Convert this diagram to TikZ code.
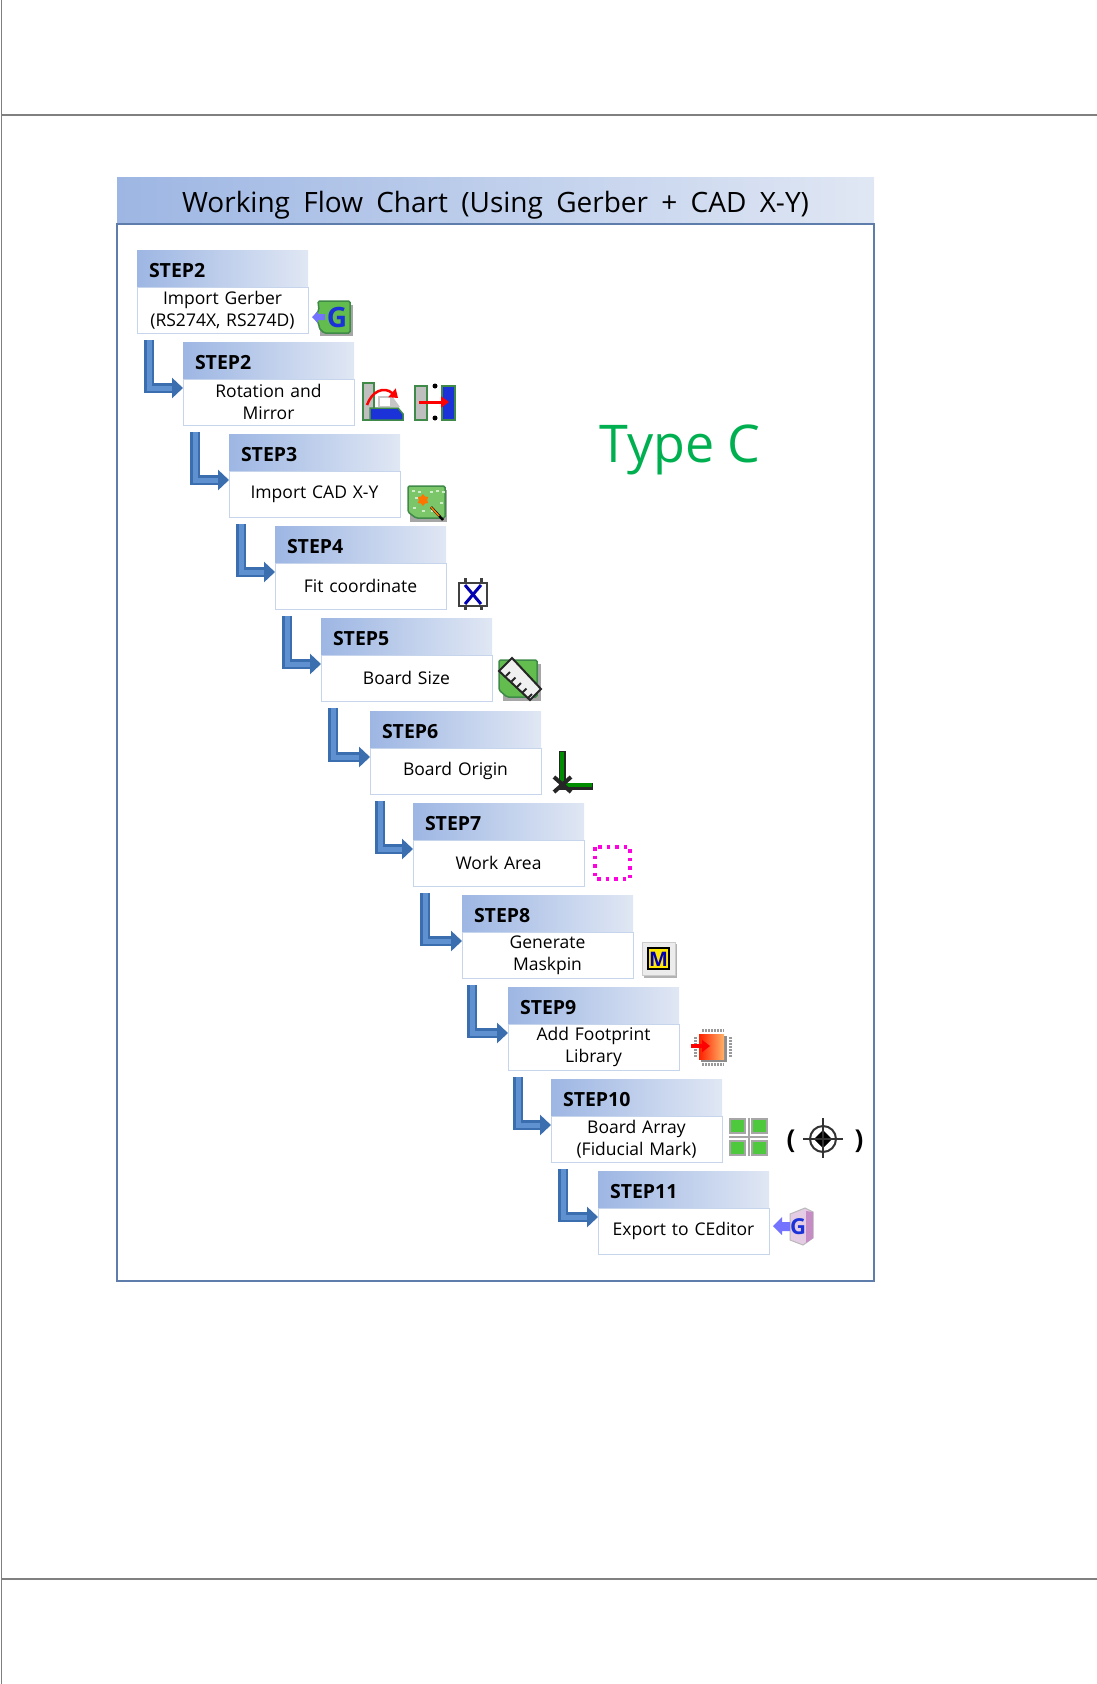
\documentclass[tikz,border=0pt]{standalone}
\usepackage{fontspec}
\setmainfont{Open Sans}
\usetikzlibrary{positioning,arrows.meta,shapes.geometric}
\definecolor{headleft}{HTML}{9DB6E3}
\definecolor{headright}{HTML}{E0E7F4}
\definecolor{bodyline}{HTML}{C6D5EC}
\definecolor{frameline}{HTML}{5F7DAB}
\definecolor{linkdark}{HTML}{3A6EAE}
\definecolor{linklight}{HTML}{5F90CF}
\definecolor{icongreen}{HTML}{62BC4E}
\definecolor{iconedge}{HTML}{3F8A48}
\definecolor{iconblue}{HTML}{1A32D8}
\definecolor{typegreen}{HTML}{00B050}
\definecolor{workpink}{HTML}{FF00E0}

\begin{document}
\begin{tikzpicture}[x=1pt,y=-1pt,
  mytitle/.style={anchor=north west, minimum width=757pt, minimum height=47pt, inner sep=0pt, outer sep=0pt,
    left color=headleft, right color=headright, font=\fontsize{28}{30}\selectfont},
  myframe/.style={draw=frameline, line width=1.2pt, minimum width=757pt, minimum height=1057pt, inner sep=0pt, outer sep=0pt},
  stephead/.style={anchor=north west, minimum width=171pt, minimum height=37pt, text width=147pt, text height=17pt, text depth=0pt, inner xsep=12pt, inner ysep=0pt, outer sep=0pt,
    left color=headleft, right color=headright, align=left, font=\fontsize{19.5}{22}\selectfont\bfseries},
  stepbody/.style={draw=bodyline, line width=1pt, fill=white, minimum width=171pt, minimum height=46pt, text width=167pt, inner xsep=2pt, inner ysep=0pt, outer sep=0pt,
    align=center, font=\fontsize{17.5}{22}\selectfont},
  steplink/.style={draw=linkdark, line width=10pt, shorten <=7pt, -{Triangle[length=11pt,width=20pt]},
    postaction={draw=linklight, line width=5pt, -, shorten >=11pt}},
  iconbox/.style={fill=icongreen, draw=iconedge, line width=1.5pt, rounded corners=1.5pt},
  iconshadow/.style={fill=gray!70, draw=none},
  redarrow/.style={draw=red, line width=3pt, -{Triangle[length=8pt,width=11pt]}},
  iconletter/.style={inner sep=0pt, font=\fontsize{#1}{#1}\selectfont\bfseries}
  ]
  \useasboundingbox (0,0) rectangle (1097,1684);
  \draw[gray, line width=1.5pt] (1.5,0) -- (1.5,1684);
  \draw[gray, line width=1.2pt] (1.5,115) -- (1097,115);
  \draw[gray, line width=1.2pt] (1.5,1579) -- (1097,1579);

  \node[mytitle] (title) at (117,177) {\rule{0pt}{30pt}\spaceskip=13.3pt Working Flow Chart (Using Gerber + CAD X-Y)};
  \node[myframe, below=0pt of title] (frame) {};
  \node[text=typegreen, inner sep=0pt, font=\fontsize{52}{56}\selectfont] (typec) at (680,450) {Type C};

  \node[stephead] (head1) at (137,250) {STEP2};
  \node[stepbody, below=0pt of head1] (body1) {Import Gerber\\(RS274X, RS274D)};
  \node[stephead] (head2) at (183,342) {STEP2};
  \node[stepbody, below=0pt of head2] (body2) {Rotation and\\Mirror};
  \node[stephead] (head3) at (229,434) {STEP3};
  \node[stepbody, below=0pt of head3] (body3) {Import CAD X-Y};
  \node[stephead] (head4) at (275,526) {STEP4};
  \node[stepbody, below=0pt of head4] (body4) {Fit coordinate};
  \node[stephead] (head5) at (321,618) {STEP5};
  \node[stepbody, below=0pt of head5] (body5) {Board Size};
  \node[stephead] (head6) at (370,711) {STEP6};
  \node[stepbody, below=0pt of head6] (body6) {Board Origin};
  \node[stephead] (head7) at (413,803) {STEP7};
  \node[stepbody, below=0pt of head7] (body7) {Work Area};
  \node[stephead] (head8) at (462,895) {STEP8};
  \node[stepbody, below=0pt of head8] (body8) {Generate\\Maskpin};
  \node[stephead] (head9) at (508,987) {STEP9};
  \node[stepbody, below=0pt of head9] (body9) {Add Footprint\\Library};
  \node[stephead] (head10) at (551,1079) {STEP10};
  \node[stepbody, below=0pt of head10] (body10) {Board Array\\(Fiducial Mark)};
  \node[stephead] (head11) at (598,1171) {STEP11};
  \node[stepbody, below=0pt of head11] (body11) {Export to CEditor};

  \draw[steplink] ([xshift=12pt]body1.south west) |- ([yshift=-9pt]body2.north west);
  \draw[steplink] ([xshift=12pt]body2.south west) |- ([yshift=-9pt]body3.north west);
  \draw[steplink] ([xshift=12pt]body3.south west) |- ([yshift=-9pt]body4.north west);
  \draw[steplink] ([xshift=12pt]body4.south west) |- ([yshift=-9pt]body5.north west);
  \draw[steplink] ([xshift=12pt]body5.south west) |- ([yshift=-9pt]body6.north west);
  \draw[steplink] ([xshift=10pt]body6.south west) |- ([yshift=-9pt]body7.north west);
  \draw[steplink] ([xshift=12pt]body7.south west) |- ([yshift=-9pt]body8.north west);
  \draw[steplink] ([xshift=10pt]body8.south west) |- ([yshift=-9pt]body9.north west);
  \draw[steplink] ([xshift=10pt]body9.south west) |- ([yshift=-9pt]body10.north west);
  \draw[steplink] ([xshift=12pt]body10.south west) |- ([yshift=-9pt]body11.north west);

  % import gerber
  \fill[iconshadow] (320,305) rectangle (353,336);
  \draw[iconbox] (318,301) -- (350,301) -- (350,333) -- (324,333) -- (319,328) -- (319,324) -- (314,317) -- (319,310) -- cycle;
  \fill[blue!55!white] (312,317) -- (318,311) -- (318,314) -- (325,314) -- (325,320) -- (318,320) -- (318,323) -- cycle;
  \node[iconletter=28, text=iconblue] (igerber) at (337,317) {G};

  % rotation
  \draw[fill=gray!50, draw=iconedge, line width=1.5pt] (363,383) rectangle (374,420);
  \draw[fill=iconblue, draw=iconedge, line width=1.5pt] (370,408) -- (398,408) -- (403,414) -- (403,420) -- (370,420) -- cycle;
  \fill[gray!45] (378,396) -- (392,396) -- (400,407) -- (378,407) -- cycle;
  \fill[white] (380,398) rectangle (390,406);
  \draw[redarrow, line width=2.5pt] (367,405) .. controls (372,391) and (384,386) .. (398,398);

  % mirror
  \draw[fill=gray!50, draw=iconedge, line width=1.5pt] (415,386) rectangle (427,420);
  \draw[fill=iconblue, draw=iconedge, line width=1.5pt] (442,386) rectangle (455,420);
  \fill[black] (435,386) circle (2.5);
  \fill[black] (435,418) circle (2.5);
  \draw[redarrow] (419,402) -- (449,402);

  % import cad
  \fill[iconshadow] (410,490) rectangle (447,522);
  \draw[iconbox, fill=icongreen!85!white] (408,486) -- (445,486) -- (445,518) -- (416,518) -- (408,512) -- cycle;
  \foreach \px/\py in {412/490,418/491,436/490,442/491,413/507,422/510,430/491,440/502,431/510,415/497}
    \fill[white!70!icongreen] (\px,\py) rectangle ++(3,2);
  \node[star, star points=6, fill=orange!90!red, inner sep=0pt, minimum size=12pt] (istar) at (423,500) {};
  \draw[black, line width=2.5pt] (431,507) -- (443,520);
  \draw[orange, line width=1.5pt] (431,507) -- (439,516);

  % fit coordinate
  \draw[black!75, line width=2.5pt] (459,583) rectangle (487,606);
  \draw[black!75, line width=3pt] (465,578) -- (465,584) (481,578) -- (481,584) (465,605) -- (465,610) (481,605) -- (481,610);
  \draw[blue!70!black, line width=3pt] (465,585) -- (481,604) (481,585) -- (465,604);

  % board size
  \fill[iconshadow] (503,664) rectangle (541,701);
  \draw[iconbox] (499,660) -- (537,660) -- (537,697) -- (507,697) -- (499,690) -- cycle;
  \draw[fill=gray!12, draw=black!85, line width=2pt] (512,658) -- (541,689) -- (530,700) -- (499,671) -- cycle;
  \foreach \pt in {0,1,2,3,4}
    \draw[black!85, line width=2pt] (506+\pt*5.5,676-\pt*-5.5) -- ++(4,-4);

  % board origin
  \draw[black!85, line width=7pt] (562,751) -- (562,786) -- (593,786);
  \draw[green!55!black, line width=4pt] (562,752) -- (562,785) -- (592,785);
  \draw[black!85, line width=4pt] (554,777) -- (571,792) (571,777) -- (554,792);

  % work area
  \draw[workpink, line width=3.5pt, dash pattern=on 3.5pt off 5pt] (595,847) rectangle (630,879);

  % maskpin
  \fill[gray!60] (644,944) rectangle (677,978);
  \draw[fill=gray!15, draw=gray!40, line width=1pt] (642,942) rectangle (675,975);
  \draw[fill=yellow!90!orange, draw=black, line width=2pt] (648,948) rectangle (669,969);
  \node[iconletter=20, text=blue!70!black] (imask) at (658.5,959) {M};

  % footprint
  \draw[gray!80, line width=3pt, dash pattern=on 1.5pt off 1.5pt] (702,1030) -- (724,1030) (702,1064) -- (724,1064) (695,1037) -- (695,1057) (730,1037) -- (730,1057);
  \fill[black!45] (701,1036) rectangle (727,1062);
  \fill[left color=red!75!orange, right color=orange!60!white] (699,1034) rectangle (724,1059);
  \draw[redarrow, line width=4pt, -{Triangle[length=8pt,width=12pt]}] (691,1046) -- (710,1046);

  % board array
  \draw[gray!70, line width=2pt] (748.5,1118) -- (748.5,1156) (729,1137) -- (768,1137);
  \foreach \px/\py in {730/1119,752/1119,730/1141,752/1141}
    \draw[fill=icongreen!80!green, draw=gray!70, line width=2pt] (\px,\py) rectangle ++(15,14);

  % fiducial
  \node[iconletter=26] (lparen) at (791,1141) {(};
  \node[iconletter=26] (rparen) at (859,1141) {)};
  \draw[black!80, line width=2pt] (823,1139) circle (13);
  \fill[black] (823,1139) circle (6);
  \fill[black] (823,1130) -- (832,1139) -- (823,1148) -- (814,1139) -- cycle;
  \draw[black!80, line width=1.8pt] (823,1118) -- (823,1158) (803,1139) -- (843,1139);

  % export
  \draw[fill=violet!20, draw=gray!55, line width=1pt] (790,1214) -- (805,1208) -- (813,1212) -- (813,1238) -- (803,1245) -- (790,1240) -- cycle;
  \fill[violet!45] (806,1211) -- (813,1212) -- (813,1238) -- (806,1243) -- cycle;
  \fill[blue!55!white] (773,1226) -- (782,1217) -- (782,1222) -- (790,1222) -- (790,1231) -- (782,1231) -- (782,1235) -- cycle;
  \node[iconletter=22, text=iconblue] (iexport) at (798,1227) {G};
\end{tikzpicture}
\end{document}
